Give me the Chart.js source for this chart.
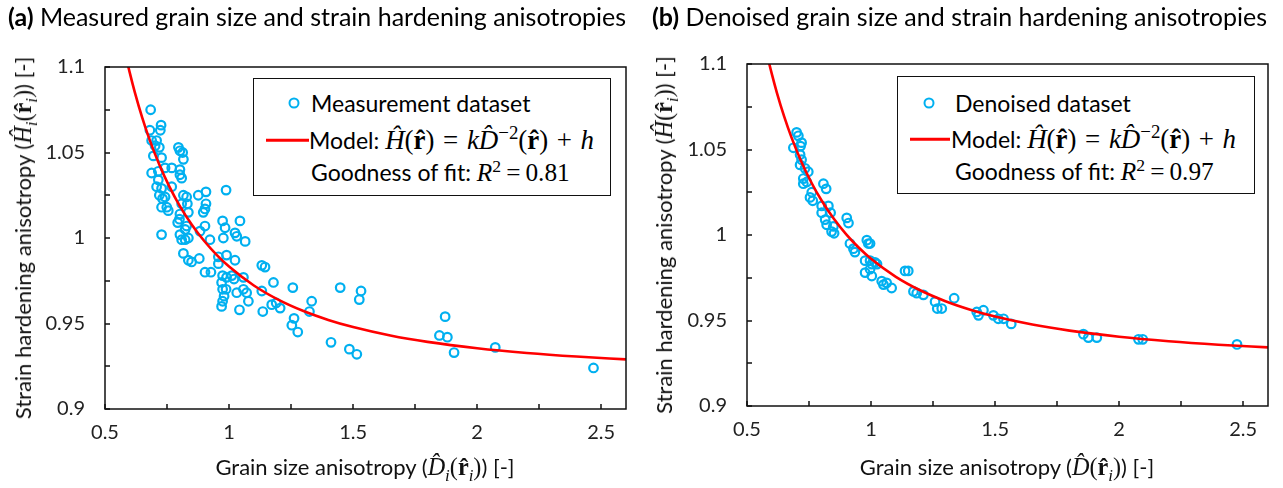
<!DOCTYPE html>
<html>
<head>
<meta charset="utf-8">
<script src="https://cdn.jsdelivr.net/npm/chart.js@4.4.1/dist/chart.umd.min.js"></script>
<style>
  body { margin: 0; background: #fff; }
  #page { position: relative; width: 1283px; height: 488px; overflow: hidden; font-family: Lato, sans-serif; color: #000; }
  .panel { position: absolute; top: 0; height: 488px; }
  .title { position: absolute; top: 1px; font-size: 25px; white-space: nowrap; line-height: 1.2; }
  .title b { font-weight: 700; }
  .xtitle { position: absolute; font-size: 22px; white-space: nowrap; transform: translate(-50%, -50%); color: #111; }
  .ytitle { position: absolute; font-size: 22px; white-space: nowrap; transform: translate(-50%, -50%) rotate(-90deg); color: #111; }
  .m { font-family: "Liberation Serif", serif; font-size: 1.1em; }
  .m.big { font-size: 1.17em; }
  .m b { font-weight: 700; }
  .m sub, .m sup { font-size: 0.7em; line-height: 0; }
  .op { margin: 0 0.32em; font-style: normal; }
  .op.tight { margin: 0 0.2em; }
  .legend { position: absolute; border: 1.5px solid #111; background: #fff; font-size: 23px; box-sizing: border-box; }
  .row { position: absolute; white-space: nowrap; line-height: 1; transform: translateY(-50%); }
  .dot { position: absolute; width: 7px; height: 7px; border: 2.3px solid #00B0F0; border-radius: 50%; transform: translate(-50%, -50%); }
  .dash { position: absolute; height: 2.5px; background: #FF0000; transform: translateY(-50%); }
</style>
</head>
<body>
<div id="page">
  <div class="panel" style="left:0; width:640px;">
    <canvas id="measuredChart" width="640" height="488"></canvas>
  </div>
  <div class="panel" style="left:640px; width:643px;">
    <canvas id="denoisedChart" width="643" height="488"></canvas>
  </div>

  <div class="title" style="left:8px;"><b>(a)</b> Measured grain size and strain hardening anisotropies</div>
  <div class="title" style="left:652px;"><b>(b)</b> Denoised grain size and strain hardening anisotropies</div>

  <div class="ytitle" style="left:23px; top:238px;">Strain hardening anisotropy (<span class="m"><i>Ĥ</i><sub><i>i</i></sub>(<b>r̂</b><sub><i>i</i></sub>)</span>) [-]</div>
  <div class="ytitle" style="left:664px; top:235px;">Strain hardening anisotropy (<span class="m"><i>Ĥ</i>(<b>r̂</b><sub><i>i</i></sub>)</span>) [-]</div>
  <div class="xtitle" style="left:365px; top:467px;">Grain size anisotropy (<span class="m"><i>D̂</i><sub><i>i</i></sub>(<b>r̂</b><sub><i>i</i></sub>)</span>) [-]</div>
  <div class="xtitle" style="left:1007px; top:467px;">Grain size anisotropy (<span class="m"><i>D̂</i>(<b>r̂</b><sub><i>i</i></sub>)</span>) [-]</div>

  <div class="legend" style="left:253px; top:78px; width:358px; height:118px;">
    <span class="dot" style="left:40px; top:24px;"></span>
    <div class="row" style="left:57px; top:24px;">Measurement dataset</div>
    <span class="dash" style="left:12px; top:61px; width:43px;"></span>
    <div class="row" style="left:55px; top:61px;">Model: <span class="m big"><i>Ĥ</i>(<b>r̂</b>)<span class="op">=</span><i>k</i><i>D̂</i><sup>−2</sup>(<b>r̂</b>)<span class="op">+</span><i>h</i></span></div>
    <div class="row" style="left:57px; top:94px;">Goodness of fit: <span class="m"><i>R</i><sup>2</sup><span class="op tight">=</span>0.81</span></div>
  </div>

  <div class="legend" style="left:897px; top:76px; width:358px; height:118px;">
    <span class="dot" style="left:31px; top:26px;"></span>
    <div class="row" style="left:57px; top:26px;">Denoised dataset</div>
    <span class="dash" style="left:12px; top:62px; width:40px;"></span>
    <div class="row" style="left:53px; top:62px;">Model: <span class="m big"><i>Ĥ</i>(<b>r̂</b>)<span class="op">=</span><i>k</i><i>D̂</i><sup>−2</sup>(<b>r̂</b>)<span class="op">+</span><i>h</i></span></div>
    <div class="row" style="left:57px; top:95px;">Goodness of fit: <span class="m"><i>R</i><sup>2</sup><span class="op tight">=</span>0.97</span></div>
  </div>
</div>

<script>
// grain size anisotropy D and strain hardening anisotropy H, one entry per sample
const measuredD = [
    0.684, 0.681, 0.726, 0.723, 0.688, 0.708, 0.702, 0.719, 0.695, 0.728,
    0.796, 0.802, 0.813, 0.816, 0.688, 0.715, 0.742, 0.769, 0.802, 0.802,
    0.809, 0.715, 0.708, 0.728, 0.769, 0.719, 0.742, 0.732, 0.816, 0.829,
    0.876, 0.907, 0.988, 0.728, 0.749, 0.755, 0.809, 0.832, 0.907, 0.903,
    0.896, 0.802, 0.800, 0.836, 0.974, 1.044, 0.793, 0.829, 0.823, 0.903,
    0.883, 0.802, 0.823, 0.923, 0.977, 0.984, 1.024, 1.065, 0.728, 0.809,
    0.836, 1.031, 0.816, 0.836, 0.849, 0.880, 0.903, 0.927, 0.957, 0.957,
    0.990, 1.024, 0.974, 0.990, 1.011, 1.020, 1.058, 0.970, 0.974, 0.988,
    0.980, 0.974, 0.970, 1.031, 1.058, 1.071, 1.078, 1.042, 1.132, 1.145,
    1.179, 1.132, 1.172, 1.190, 1.206, 1.136, 1.257, 1.262, 1.253, 1.277,
    1.333, 1.324, 1.411, 1.448, 1.485, 1.515, 1.532, 1.525, 1.871, 1.848,
    1.880, 1.907, 2.073, 2.469
]
const measuredH = [
    1.075, 1.063, 1.066, 1.063, 1.057, 1.057, 1.054, 1.053, 1.048, 1.047,
    1.053, 1.051, 1.050, 1.046, 1.038, 1.039, 1.041, 1.041, 1.040, 1.037,
    1.035, 1.034, 1.030, 1.029, 1.030, 1.025, 1.024, 1.023, 1.025, 1.024,
    1.025, 1.027, 1.028, 1.018, 1.018, 1.016, 1.020, 1.020, 1.020, 1.017,
    1.015, 1.014, 1.011, 1.015, 1.010, 1.010, 1.009, 1.007, 1.005, 1.007,
    1.004, 1.002, 0.999, 0.999, 1.000, 1.006, 1.003, 0.998, 1.002, 0.999,
    1.000, 1.001, 0.991, 0.987, 0.986, 0.988, 0.980, 0.980, 0.989, 0.985,
    0.990, 0.987, 0.978, 0.977, 0.978, 0.976, 0.977, 0.974, 0.970, 0.970,
    0.966, 0.963, 0.960, 0.968, 0.970, 0.968, 0.963, 0.958, 0.984, 0.983,
    0.974, 0.969, 0.961, 0.962, 0.959, 0.957, 0.971, 0.953, 0.949, 0.945,
    0.963, 0.957, 0.939, 0.971, 0.935, 0.932, 0.969, 0.964, 0.954, 0.943,
    0.942, 0.933, 0.936, 0.924
]

const denoisedD = [
    0.700, 0.707, 0.687, 0.720, 0.716, 0.714, 0.720, 0.714, 0.734, 0.747,
    0.727, 0.727, 0.741, 0.808, 0.819, 0.761, 0.754, 0.765, 0.801, 0.828,
    0.801, 0.837, 0.815, 0.821, 0.848, 0.841, 0.851, 0.902, 0.909, 0.915,
    0.929, 0.935, 0.983, 0.989, 0.996, 0.976, 0.996, 1.016, 1.003, 1.024,
    0.976, 0.996, 1.003, 1.043, 1.050, 1.063, 1.083, 1.137, 1.150, 1.171,
    1.184, 1.211, 1.258, 1.267, 1.285, 1.335, 1.426, 1.433, 1.453, 1.493,
    1.513, 1.534, 1.565, 1.856, 1.876, 1.910, 2.078, 2.095, 2.475
]
const denoisedH = [
    1.060, 1.058, 1.051, 1.054, 1.052, 1.047, 1.044, 1.041, 1.039, 1.037,
    1.033, 1.030, 1.031, 1.030, 1.027, 1.025, 1.022, 1.020, 1.017, 1.017,
    1.013, 1.013, 1.009, 1.006, 1.005, 1.002, 1.001, 1.010, 1.007, 0.995,
    0.992, 0.990, 0.997, 0.995, 0.995, 0.985, 0.985, 0.984, 0.983, 0.983,
    0.978, 0.980, 0.976, 0.973, 0.971, 0.972, 0.969, 0.979, 0.979, 0.967,
    0.966, 0.965, 0.961, 0.957, 0.957, 0.963, 0.955, 0.953, 0.956, 0.953,
    0.951, 0.951, 0.948, 0.942, 0.940, 0.940, 0.939, 0.939, 0.936
]

// fitted model H = k * D^-2 + h
const kMeasured = 0.0637
const hMeasured = 0.9196
const kDenoised = 0.0608
const hDenoised = 0.9253
const modelD = [0.56, 0.58, 0.6, 0.62, 0.65, 0.68, 0.72, 0.76, 0.8, 0.85, 0.9, 0.95,
                1.0, 1.1, 1.2, 1.3, 1.4, 1.5, 1.65, 1.8, 2.0, 2.2, 2.4, 2.6]

const xRange = [0.5, 2.6]
const yRange = [0.9, 1.1]

const BLUE = '#00B0F0'
const RED = '#FF0000'

// frame around the plot area plus short inward tick marks on left and bottom
const frameTicks = {
    id: 'frameTicks',
    afterDatasetsDraw(chart) {
        const {ctx, chartArea: a, scales: {x, y}} = chart
        ctx.save()
        ctx.strokeStyle = '#111'
        ctx.lineWidth = 1.5
        ctx.beginPath()
        for (const t of x.ticks) {
            const px = Math.round(x.getPixelForValue(t.value))
            ctx.moveTo(px, a.bottom)
            ctx.lineTo(px, a.bottom - 5)
        }
        for (const t of y.ticks) {
            const py = Math.round(y.getPixelForValue(t.value))
            ctx.moveTo(a.left, py)
            ctx.lineTo(a.left + 5, py)
        }
        ctx.stroke()
        ctx.strokeRect(a.left, a.top, a.width, a.height)
        ctx.restore()
    }
}

// only every other tick gets a label
function tickLabel(v, every) {
    const r = v / every
    if (Math.abs(r - Math.round(r)) > 1e-6) return ''
    return String(Number(v.toFixed(3)))
}

function zip(xs, ys) {
    return xs.map((x, i) => ({x, y: ys[i]}))
}

function drawChart({canvasId, d, h, k, h0, padding}) {
    const tickFont = {family: 'Lato', size: 20}
    new Chart(canvasId, {
        type: 'scatter',
        data: {
            datasets: [{
                data: modelD.map(x => ({x, y: k / (x * x) + h0})),
                showLine: true,
                borderColor: RED,
                borderWidth: 2.6,
                pointRadius: 0,
                cubicInterpolationMode: 'monotone',
                clip: 0
            }, {
                data: zip(d, h),
                pointStyle: 'circle',
                pointRadius: 4.3,
                borderWidth: 2.2,
                borderColor: BLUE,
                backgroundColor: 'rgba(0,0,0,0)',
                clip: 0
            }]
        },
        options: {
            responsive: false,
            animation: false,
            events: [],
            layout: {padding},
            plugins: {legend: {display: false}, tooltip: {enabled: false}},
            scales: {
                x: {
                    type: 'linear',
                    min: xRange[0], max: xRange[1],
                    border: {display: false},
                    grid: {display: false, drawTicks: false},
                    ticks: {
                        stepSize: 0.25, includeBounds: false, autoSkip: false,
                        maxRotation: 0, padding: 12, color: '#222', font: tickFont,
                        callback: v => tickLabel(v, 0.5)
                    },
                    afterFit: s => { s.height = 40 }
                },
                y: {
                    type: 'linear',
                    min: yRange[0], max: yRange[1],
                    border: {display: false},
                    grid: {display: false, drawTicks: false},
                    ticks: {
                        stepSize: 0.025, includeBounds: false, autoSkip: false,
                        padding: 20, color: '#222', font: tickFont,
                        callback: v => tickLabel(v, 0.05)
                    },
                    afterFit: s => { s.width = 60 }
                }
            }
        },
        plugins: [frameTicks]
    })
}

drawChart({
    canvasId: 'measuredChart',
    d: measuredD, h: measuredH,
    k: kMeasured, h0: hMeasured,
    padding: {left: 45, right: 14, top: 67, bottom: 39}
})

drawChart({
    canvasId: 'denoisedChart',
    d: denoisedD, h: denoisedH,
    k: kDenoised, h0: hDenoised,
    padding: {left: 47, right: 15, top: 64, bottom: 42}
})
</script>
</body>
</html>
